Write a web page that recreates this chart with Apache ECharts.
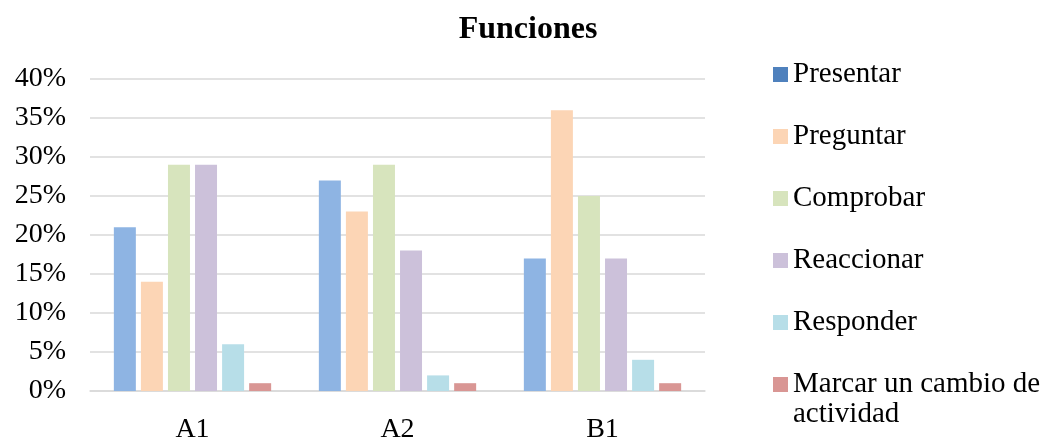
<!DOCTYPE html>
<html>
<head>
<meta charset="utf-8">
<script src="https://cdn.jsdelivr.net/npm/echarts@6/dist/echarts.min.js"></script>
<style>
  html, body { margin: 0; padding: 0; background: #fff; }
  #chart { width: 1045px; height: 437px; }
</style>
</head>
<body>
<div id="chart"></div>
<script>
// datos
var niveles = ['A1', 'A2', 'B1']
var funciones = ['Presentar', 'Preguntar', 'Comprobar', 'Reaccionar', 'Responder', 'Marcar un cambio de actividad']
var presentar = [21, 27, 17]
var preguntar = [14, 23, 36]
var comprobar = [29, 29, 25]
var reaccionar = [29, 18, 17]
var responder = [6, 2, 4]
var marcar = [1, 1, 1]
var yTicks = [0, 5, 10, 15, 20, 25, 30, 35, 40]

var valores = [presentar, preguntar, comprobar, reaccionar, responder, marcar]
var coloresBarra = ['#8eb4e3', '#fcd5b5', '#d7e4bd', '#ccc1da', '#b7dee8', '#d99694']
var coloresLeyenda = ['#4f81bd', '#fcd5b5', '#d7e4bd', '#ccc1da', '#b7dee8', '#d99694']

var fuente = '"Liberation Serif", "Times New Roman", serif'

var series = []
funciones.forEach(function (f, i) {
  series.push({
    name: f,
    type: 'bar',
    data: valores[i],
    barWidth: 22,
    barGap: '23%',
    itemStyle: { color: coloresBarra[i] }
  })
})

var option = {
  animation: false,
  textStyle: { fontFamily: fuente },
  title: {
    text: 'Funciones',
    left: 523,
    textAlign: 'center',
    top: 9,
    textStyle: { fontFamily: fuente, fontSize: 32, fontWeight: 'bold', color: '#000' }
  },
  legend: {
    orient: 'vertical',
    left: 768,
    top: 55,
    height: 375,
    itemWidth: 15,
    itemHeight: 15,
    itemGap: 33,
    icon: 'rect',
    textStyle: { fontFamily: fuente, fontSize: 29, color: '#000' },
    // la última entrada se parte en dos líneas como en el original
    formatter: function (name) {
      return name === funciones[5] ? 'Marcar un cambio de' : name
    },
    data: funciones.map(function (f, i) {
      return { name: f, itemStyle: { color: coloresLeyenda[i] } }
    })
  },
  graphic: [{
    type: 'text',
    left: 793,
    top: 400,
    silent: true,
    style: { text: 'actividad', fontFamily: fuente, fontSize: 29, fill: '#000' }
  }],
  grid: { left: 90, right: 340, top: 79, bottom: 46, outerBoundsMode: 'none' },
  xAxis: {
    type: 'category',
    data: niveles,
    axisTick: { show: false },
    axisLine: { lineStyle: { color: '#d9d9d9', width: 1.5 } },
    axisLabel: { fontFamily: fuente, fontSize: 28, color: '#000', margin: 25 }
  },
  yAxis: {
    type: 'value',
    min: yTicks[0],
    max: yTicks[yTicks.length - 1],
    interval: 5,
    axisLine: { show: false },
    axisTick: { show: false },
    splitLine: { lineStyle: { color: '#d9d9d9', width: 1.5 } },
    axisLabel: { fontFamily: fuente, fontSize: 28, color: '#000', margin: 24, formatter: '{value}%' }
  },
  series: series
}

var chart = echarts.init(document.getElementById('chart'))
chart.setOption(option)
</script>
</body>
</html>
